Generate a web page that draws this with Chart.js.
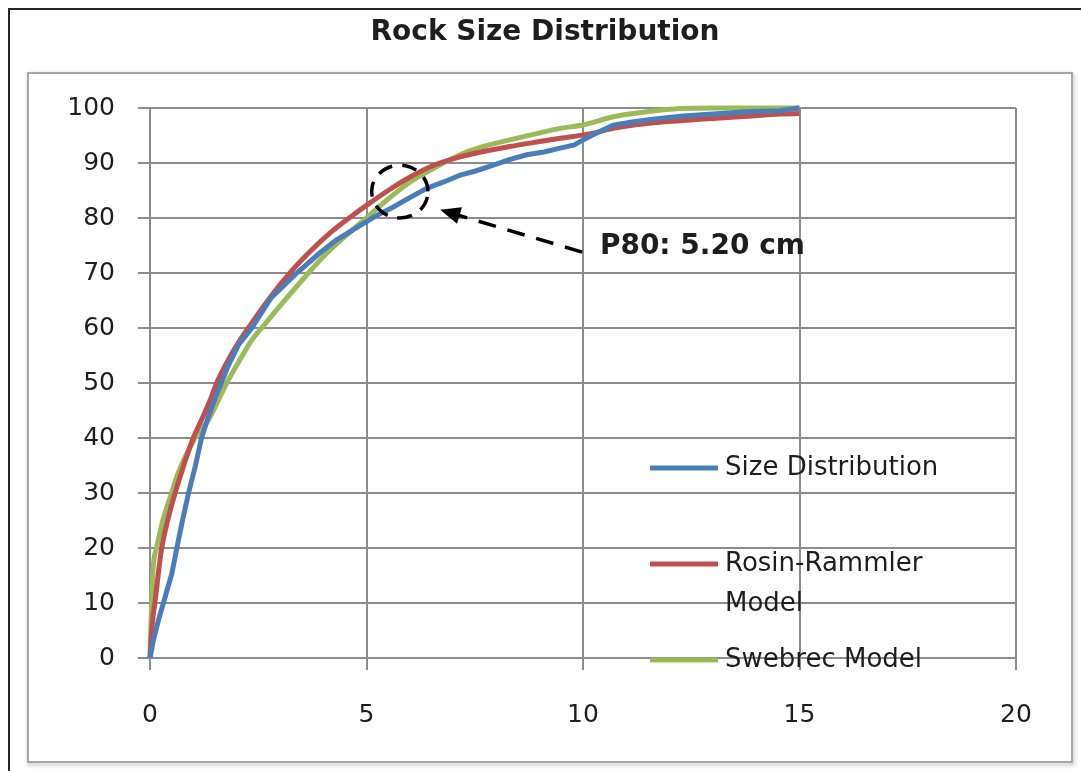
<!DOCTYPE html>
<html>
<head>
<meta charset="utf-8">
<title>Rock Size Distribution</title>
<script src="https://cdn.jsdelivr.net/npm/chart.js@4.4.1/dist/chart.umd.min.js"></script>
<style>
    html, body { margin: 0; padding: 0; background: #fff; }
    canvas { display: block; }
</style>
</head>
<body>
<canvas id="rock-chart" width="1081" height="771"></canvas>
<script>
// Chart text
const chartTitle = 'Rock Size Distribution';
const seriesLabels = ['Size Distribution', ['Rosin-Rammler', 'Model'], 'Swebrec Model'];

// Axis ticks
const xTicks = [0, 5, 10, 15, 20];
const yTicks = [0, 10, 20, 30, 40, 50, 60, 70, 80, 90, 100];

// Measured size distribution (cm, % passing)
const sizeX = [0, 0.05, 0.08, 0.2, 0.31, 0.4, 0.5, 0.62, 0.75, 0.89, 1.05, 1.19, 1.35, 1.54, 1.8, 2.05,
    2.35, 2.8, 3.39, 3.9, 4.3, 4.85, 5.2, 5.62, 6.0, 6.39, 6.8, 7.16, 7.5, 7.93, 8.3, 8.7, 9.1,
    9.47, 9.8, 10.0, 10.3, 10.7, 11.1, 11.47, 12.24, 13.0, 13.78, 14.55, 15.0];
const sizeY = [0, 2, 3.3, 7, 10, 12.5, 15.2, 20, 25, 30, 35, 40, 43.9, 48, 53, 57,
    60, 65.5, 70, 73.5, 76.0, 78.6, 80.3, 82.0, 83.7, 85.4, 86.6, 87.8, 88.5, 89.6, 90.6, 91.5, 92.0,
    92.7, 93.3, 94.2, 95.4, 96.9, 97.4, 97.8, 98.5, 98.9, 99.3, 99.5, 100];

// Rosin-Rammler model
const rosinX = [0, 0.05, 0.12, 0.27, 0.42, 0.58, 0.8, 1.0, 1.19, 1.39, 1.54, 1.85, 2.08, 2.27, 2.73,
    3.23, 3.62, 4.16, 4.7, 5.0, 5.5, 6.0, 6.5, 7.16, 7.7, 8.31, 9.0, 9.47, 10.16, 10.7, 11.47,
    12.24, 13.0, 13.78, 14.55, 15.0];
const rosinY = [0, 6, 10.5, 20, 25.4, 30, 35.5, 40, 43.3, 46.9, 50, 54.8, 57.8, 60, 65.1,
    70, 73.3, 77.3, 80.6, 82.3, 85.0, 87.4, 89.4, 91.1, 92.1, 93.0, 93.9, 94.5, 95.3, 96.3, 97.2,
    97.7, 98.1, 98.5, 98.9, 99.0];

// Swebrec model
const swebrecX = [0, 0.03, 0.06, 0.09, 0.15, 0.31, 0.5, 0.62, 1.04, 1.35, 1.58, 1.77, 2.12, 2.35, 2.58,
    3.12, 3.66, 4.08, 4.85, 5.0, 5.43, 6.0, 6.5, 7.16, 7.7, 8.31, 8.9, 9.47, 10.0, 10.7, 11.47,
    12.24, 13.0, 14.0, 15.0];
const swebrecY = [0, 8, 14.5, 17.8, 20, 25.4, 30, 33, 40, 43.3, 46.9, 50, 54.8, 57.8, 60,
    65.1, 70, 73.6, 79.0, 80.0, 83.0, 86.5, 88.8, 91.5, 93.0, 94.2, 95.3, 96.3, 96.9, 98.4, 99.3,
    99.9, 100, 100, 100];

// P80 callout (data units)
const p80Text = 'P80: 5.20 cm';
const p80Circle = [5.77, 84.8];
const p80Radius = [0.65, 4.8];
const p80ArrowFrom = [9.98, 73.8];
const p80ArrowTo = [6.7, 81.5];
const p80TextAt = [10.39, 74.7];

const colors = {
    size: '#4a7ebb',
    rosin: '#c0504d',
    swebrec: '#9bbb59',
    grid: '#8c8c8c',
    text: '#1e1e1e'
};
const tickFont = { family: 'DejaVu Sans', size: 25 };

function toPoints(xs, ys) {
    return xs.map((x, i) => ({ x: x, y: ys[i] }));
}

// Page frame behind the chart
const framePlugin = {
    id: 'frame',
    beforeDraw(chart) {
        const ctx = chart.ctx;
        ctx.save();
        ctx.fillStyle = '#fff';
        ctx.fillRect(0, 0, chart.width, chart.height);

        // outer dark border
        ctx.strokeStyle = '#262626';
        ctx.lineWidth = 2;
        ctx.beginPath();
        ctx.moveTo(9, chart.height);
        ctx.lineTo(9, 9);
        ctx.lineTo(chart.width, 9);
        ctx.stroke();

        // inner plot frame with a soft shadow
        ctx.shadowColor = 'rgba(0,0,0,0.35)';
        ctx.shadowBlur = 4;
        ctx.shadowOffsetX = 1;
        ctx.shadowOffsetY = 2;
        ctx.strokeStyle = '#a6a6a6';
        ctx.strokeRect(28, 73, 1044, 689);
        ctx.shadowColor = 'transparent';
        ctx.fillStyle = '#fff';
        ctx.fillRect(29, 74, 1042, 687);

        // title
        ctx.fillStyle = colors.text;
        ctx.font = 'bold 28px "DejaVu Sans"';
        ctx.textAlign = 'center';
        ctx.textBaseline = 'middle';
        ctx.fillText(chartTitle, 545, 33);
        ctx.restore();
    }
};

// Dashed circle, arrow and P80 label
const calloutPlugin = {
    id: 'callout',
    afterDatasetsDraw(chart) {
        const ctx = chart.ctx;
        const xs = chart.scales.x;
        const ys = chart.scales.y;
        const cx = xs.getPixelForValue(p80Circle[0]);
        const cy = ys.getPixelForValue(p80Circle[1]);
        const rx = xs.getPixelForValue(p80Circle[0] + p80Radius[0]) - cx;
        const ry = cy - ys.getPixelForValue(p80Circle[1] + p80Radius[1]);

        ctx.save();
        ctx.strokeStyle = '#000';
        ctx.fillStyle = '#000';
        ctx.lineWidth = 3.5;
        ctx.setLineDash([15, 10]);
        ctx.beginPath();
        ctx.ellipse(cx, cy, rx, ry, 0, 0.2, Math.PI * 2 + 0.2);
        ctx.stroke();

        const x1 = xs.getPixelForValue(p80ArrowFrom[0]);
        const y1 = ys.getPixelForValue(p80ArrowFrom[1]);
        const x2 = xs.getPixelForValue(p80ArrowTo[0]);
        const y2 = ys.getPixelForValue(p80ArrowTo[1]);
        const ang = Math.atan2(y2 - y1, x2 - x1);
        const head = 22;
        ctx.setLineDash([18, 12]);
        ctx.beginPath();
        ctx.moveTo(x1, y1);
        ctx.lineTo(x2 - Math.cos(ang) * head * 0.8, y2 - Math.sin(ang) * head * 0.8);
        ctx.stroke();

        ctx.setLineDash([]);
        ctx.beginPath();
        ctx.moveTo(x2, y2);
        ctx.lineTo(x2 - head * Math.cos(ang - 0.4), y2 - head * Math.sin(ang - 0.4));
        ctx.lineTo(x2 - head * Math.cos(ang + 0.4), y2 - head * Math.sin(ang + 0.4));
        ctx.closePath();
        ctx.fill();

        ctx.fillStyle = colors.text;
        ctx.font = 'bold 28px "DejaVu Sans"';
        ctx.textAlign = 'left';
        ctx.textBaseline = 'middle';
        ctx.fillText(p80Text, xs.getPixelForValue(p80TextAt[0]), ys.getPixelForValue(p80TextAt[1]));
        ctx.restore();
    }
};

// Legend sitting inside the plot, lower right
const legendPlugin = {
    id: 'insideLegend',
    afterDraw(chart) {
        const ctx = chart.ctx;
        const area = chart.chartArea;
        const lineStart = area.right - 366;
        const lineEnd = area.right - 298;
        const textX = area.right - 291;
        const rows = [area.bottom - 190, area.bottom - 94, area.bottom + 2];
        ctx.save();
        ctx.font = '26px "DejaVu Sans"';
        ctx.textAlign = 'left';
        ctx.textBaseline = 'middle';
        chart.data.datasets.forEach((ds, i) => {
            ctx.strokeStyle = ds.borderColor;
            ctx.lineWidth = 5;
            ctx.beginPath();
            ctx.moveTo(lineStart, rows[i]);
            ctx.lineTo(lineEnd, rows[i]);
            ctx.stroke();
            ctx.fillStyle = colors.text;
            const lines = Array.isArray(ds.label) ? ds.label : [ds.label];
            lines.forEach((t, j) => ctx.fillText(t, textX, rows[i] + j * 40));
        });
        ctx.restore();
    }
};

function lineDataset(label, xs, ys, color, smooth) {
    return {
        label: label,
        data: toPoints(xs, ys),
        borderColor: color,
        backgroundColor: color,
        borderWidth: 5,
        pointRadius: 0,
        showLine: true,
        fill: false,
        clip: 8,
        tension: smooth ? 0.4 : 0,
        cubicInterpolationMode: smooth ? 'monotone' : 'default'
    };
}

const config = {
    type: 'scatter',
    data: {
        datasets: [
            lineDataset(seriesLabels[0], sizeX, sizeY, colors.size, false),
            lineDataset(seriesLabels[1], rosinX, rosinY, colors.rosin, true),
            lineDataset(seriesLabels[2], swebrecX, swebrecY, colors.swebrec, true)
        ]
    },
    options: {
        responsive: false,
        animation: false,
        devicePixelRatio: 1,
        layout: { padding: { top: 108, left: 20, right: 65, bottom: 20 } },
        plugins: {
            legend: { display: false },
            title: { display: false },
            tooltip: { enabled: false }
        },
        scales: {
            x: {
                type: 'linear',
                min: xTicks[0],
                max: xTicks[xTicks.length - 1],
                afterBuildTicks: (axis) => { axis.ticks = xTicks.map(v => ({ value: v })); },
                afterFit: (axis) => { axis.height = 93; },
                grid: { color: colors.grid, lineWidth: 2, tickLength: 12, tickColor: colors.grid },
                border: { color: colors.grid, width: 2 },
                ticks: { color: colors.text, font: tickFont, padding: 30, maxRotation: 0 }
            },
            y: {
                type: 'linear',
                min: yTicks[0],
                max: yTicks[yTicks.length - 1],
                afterBuildTicks: (axis) => { axis.ticks = yTicks.map(v => ({ value: v })); },
                afterFit: (axis) => { axis.width = 130; },
                grid: { color: colors.grid, lineWidth: 2, tickLength: 12, tickColor: colors.grid },
                border: { color: colors.grid, width: 2 },
                ticks: { color: colors.text, font: tickFont, padding: 23 }
            }
        }
    },
    plugins: [framePlugin, calloutPlugin, legendPlugin]
};

new Chart(document.getElementById('rock-chart'), config);
</script>
</body>
</html>
